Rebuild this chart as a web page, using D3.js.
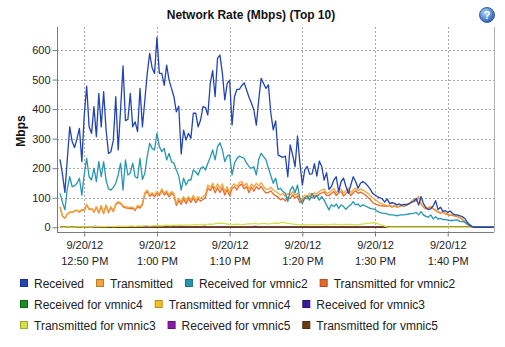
<!DOCTYPE html>
<html><head><meta charset="utf-8">
<script src="https://cdn.jsdelivr.net/npm/d3@7"></script>
<style>
html,body{margin:0;padding:0;background:#fff;}
svg{display:block;font-family:"Liberation Sans",Arial,Helvetica,sans-serif;}
</style></head><body>
<svg id="chart" width="505" height="347"></svg>
<script>
// Network rate samples, one every 20 seconds, in Mbps
const sampleStart = new Date(2012, 8, 20, 12, 46, 40);
const sampleSeconds = 20;

const received = [
  230,180,118,230,340,290,270,300,335,222,
  380,478,340,318,408,307,453,340,459,330,
  250,256,295,442,262,400,546,361,365,453,
  340,357,324,470,340,430,521,589,540,521,
  643,521,521,480,549,498,470,442,391,410,
  248,329,295,318,301,386,386,340,363,408,
  406,380,487,530,442,572,583,521,431,487,
  498,346,442,467,467,480,489,465,440,420,
  397,346,430,504,487,470,482,386,330,360,
  245,240,237,241,171,279,245,205,309,217,
  143,194,206,180,181,215,173,224,206,160,
  185,128,138,160,171,121,155,166,138,115,
  143,171,155,132,149,155,149,140,129,115,
  109,103,100,96,85,96,81,83,81,76,
  79,74,78,75,79,85,87,98,75,104,
  80,66,60,62,72,90,60,68,54,56,
  50,55,46,42,42,39,36,30,18,9,
  3,0,0,0,0,0,0,0,0,0
];

const transmitted = [
  70,38,30,45,52,50,56,58,53,60,
  58,78,62,64,53,70,50,74,48,76,
  52,70,55,80,87,83,72,70,68,67,
  68,60,74,70,80,118,126,109,117,109,
  121,113,130,115,124,109,121,115,80,98,
  85,104,88,104,92,108,92,104,98,104,
  110,143,135,149,129,147,132,147,121,138,
  117,140,147,138,151,155,140,149,129,147,
  135,149,140,151,138,128,129,135,126,121,
  115,109,115,104,115,109,121,109,115,92,
  98,109,104,115,109,117,113,121,126,129,
  115,117,124,132,117,126,129,115,124,132,
  117,126,132,124,129,126,121,115,108,100,
  94,88,82,79,76,72,76,70,74,70,
  72,76,72,79,81,87,95,90,104,81,
  70,64,67,70,64,59,53,50,53,47,
  45,42,42,40,38,34,28,20,12,5,
  0,0,0,0,0,0,0,0,0,0
];

const receivedVmnic2 = [
  115,85,59,130,171,138,140,149,166,109,
  180,233,171,160,200,155,222,171,222,160,
  130,126,135,149,177,217,126,228,177,183,
  217,171,166,233,162,183,240,284,267,262,
  318,273,256,267,228,250,222,217,194,174,
  126,166,143,160,160,194,188,177,200,205,
  194,217,237,262,228,273,286,262,222,241,
  245,177,217,233,241,237,233,217,205,200,
  205,177,230,250,239,228,200,175,149,166,
  128,132,121,115,87,126,138,117,143,98,
  81,98,106,92,115,98,109,92,104,92,
  75,59,76,70,79,64,76,70,61,70,
  76,87,76,79,70,76,72,68,64,62,
  61,53,50,48,47,45,42,42,41,39,
  41,42,42,44,45,46,47,50,42,53,
  42,37,34,42,28,36,28,30,26,27,
  24,23,23,24,25,20,19,18,12,6,
  2,0,0,0,0,0,0,0,0,0
];

const transmittedVmnic2 = [
  69,38,30,44,51,50,55,57,51,59,
  57,76,61,63,51,68,48,71,46,74,
  49,67,53,77,83,80,69,66,65,63,
  64,57,70,65,76,113,121,105,112,103,
  116,107,125,109,117,103,115,108,74,90,
  78,97,80,97,84,100,83,96,89,94,
  101,133,124,139,117,134,118,134,109,127,
  107,131,137,127,141,146,130,138,117,136,
  122,137,129,139,125,116,118,123,113,107,
  102,93,98,89,102,97,110,99,106,83,
  90,100,96,106,99,108,105,112,116,120,
  107,108,114,121,107,117,121,106,114,123,
  107,117,124,115,119,115,109,102,94,84,
  79,76,73,72,72,71,74,68,72,68,
  70,74,70,77,79,85,93,88,102,79,
  68,62,65,68,62,57,51,48,51,45,
  43,40,40,38,36,32,26,18,10,4,
  0,0,0,0,0,0,0,0,0,0
];

const transmittedVmnic3 = [
  1,0,0,1,1,0,1,1,2,1,
  1,2,1,1,2,2,2,3,2,2,
  3,3,2,3,4,3,3,4,3,4,
  4,3,4,5,4,5,5,4,5,6,
  5,6,5,6,7,6,6,7,6,8,
  7,7,8,7,8,8,9,8,9,10,
  9,10,11,10,12,13,14,13,12,11,
  10,9,10,11,10,9,10,11,12,11,
  13,12,11,12,13,12,11,12,13,14,
  13,16,17,15,13,12,11,10,9,9,
  8,9,8,9,10,9,8,9,10,9,
  8,9,10,11,10,9,8,9,10,9,
  10,9,8,9,10,11,12,13,14,16,
  15,12,9,7,4,1,0,0,0,0,
  0,0,0,0,0,0,0,0,0,0,
  0,0,0,0,0,0,0,0,0,0,
  0,0,0,0,0,0,0,0,0,0,
  0,0,0,0,0,0,0,0,0,0
];

const transmittedVmnic5 = [
  0,0,0,0,0,0,0,0,0,0,
  0,0,0,0,3,3,0,0,0,0,
  0,0,0,0,0,0,0,0,0,0,
  0,0,0,0,0,3,3,0,0,0,
  0,0,0,0,0,0,0,0,0,0,
  3,0,0,0,0,0,0,0,0,3,
  3,0,0,0,0,0,0,0,0,0,
  0,0,0,0,0,0,0,0,0,0,
  3,3,0,0,0,0,0,0,0,0,
  0,0,0,0,0,0,0,0,0,0,
  0,0,0,0,0,0,0,0,0,0,
  0,0,0,0,0,0,0,0,0,0,
  0,0,0,0,0,0,0,0,0,0,
  0,0,0,0,0,0,0,0,0,0,
  0,0,0,0,0,0,0,0,0,0,
  0,0,0,0,0,0,0,0,0,0,
  0,0,0,0,0,0,0,0,0,0,
  0,0,0,0,0,0,0,0,0,0
];

// NICs with no traffic in this window
const receivedVmnic4 = new Array(180).fill(0);
const transmittedVmnic4 = new Array(180).fill(0);
const receivedVmnic3 = new Array(180).fill(0);
const receivedVmnic5 = new Array(180).fill(0);

const seriesNames = [
  "Received", "Transmitted", "Received for vmnic2", "Transmitted for vmnic2",
  "Received for vmnic4", "Transmitted for vmnic4", "Received for vmnic3",
  "Transmitted for vmnic3", "Received for vmnic5", "Transmitted for vmnic5"
];
const seriesValues = [
  received, transmitted, receivedVmnic2, transmittedVmnic2,
  receivedVmnic4, transmittedVmnic4, receivedVmnic3,
  transmittedVmnic3, receivedVmnic5, transmittedVmnic5
];
const seriesColors = [
  "#2244b4", "#f4a43a", "#2896b0", "#e8682a",
  "#1a8c1a", "#f0c020", "#3a1a9c",
  "#d2e04c", "#8c1aa8", "#6a3a12"
];
// paint order, bottom to top
const drawOrder = [4, 5, 6, 8, 9, 7, 3, 1, 2, 0];

const yTicks = [0, 100, 200, 300, 400, 500, 600];
const xTickTimes = [
  new Date(2012, 8, 20, 12, 50), new Date(2012, 8, 20, 13, 0),
  new Date(2012, 8, 20, 13, 10), new Date(2012, 8, 20, 13, 20),
  new Date(2012, 8, 20, 13, 30), new Date(2012, 8, 20, 13, 40)
];

const svg = d3.select("#chart");
const W = 505, H = 347;
const plot = {left: 57, right: 494, top: 27, bottom: 232};

const x = d3.scaleTime()
  .domain([new Date(2012, 8, 20, 12, 46, 15), new Date(2012, 8, 20, 13, 46, 22)])
  .range([plot.left, plot.right]);
const y = d3.scaleLinear().domain([-16, 678]).range([plot.bottom, plot.top]);

const timeAt = i => new Date(sampleStart.getTime() + i * sampleSeconds * 1000);

svg.append("rect").attr("width", W).attr("height", H).attr("fill", "#fff");

// title
svg.append("text").attr("x", 251).attr("y", 19).attr("text-anchor", "middle")
  .attr("font-size", 12).attr("font-weight", "bold").attr("fill", "#111")
  .text("Network Rate (Mbps) (Top 10)");

// help button
const defs = svg.append("defs");
const grad = defs.append("radialGradient").attr("id", "helpGrad")
  .attr("cx", "40%").attr("cy", "35%").attr("r", "65%");
grad.append("stop").attr("offset", "0%").attr("stop-color", "#bcd6f4");
grad.append("stop").attr("offset", "60%").attr("stop-color", "#5c8fd6");
grad.append("stop").attr("offset", "100%").attr("stop-color", "#2d5fae");
svg.append("circle").attr("cx", 487).attr("cy", 15).attr("r", 7.5)
  .attr("fill", "url(#helpGrad)").attr("stroke", "#3a64a8").attr("stroke-width", 1);
svg.append("text").attr("x", 487).attr("y", 19).attr("text-anchor", "middle")
  .attr("font-size", 11).attr("font-weight", "bold").attr("fill", "#fff").text("?");

// grid
const grid = svg.append("g").attr("stroke", "#a8a8a8").attr("stroke-dasharray", "2,2").attr("stroke-width", 1);
grid.selectAll("line.h").data(yTicks).join("line").attr("class", "h")
  .attr("x1", plot.left).attr("x2", plot.right)
  .attr("y1", d => Math.round(y(d)) + 0.5).attr("y2", d => Math.round(y(d)) + 0.5);
grid.selectAll("line.v").data(xTickTimes).join("line").attr("class", "v")
  .attr("x1", d => Math.round(x(d)) + 0.5).attr("x2", d => Math.round(x(d)) + 0.5)
  .attr("y1", plot.top).attr("y2", plot.bottom);

// right border
svg.append("line").attr("x1", plot.right + 0.5).attr("x2", plot.right + 0.5)
  .attr("y1", plot.top).attr("y2", plot.bottom).attr("stroke", "#b0b0b0");

// series lines
const clip = defs.append("clipPath").attr("id", "plotClip");
clip.append("rect").attr("x", plot.left).attr("y", plot.top)
  .attr("width", plot.right - plot.left).attr("height", plot.bottom - plot.top);
const lineGen = d3.line().x((d, i) => x(timeAt(i))).y(d => y(d));
const lines = svg.append("g").attr("clip-path", "url(#plotClip)");
drawOrder.forEach(k => {
  lines.append("path").datum(seriesValues[k])
    .attr("fill", "none").attr("stroke", seriesColors[k])
    .attr("stroke-width", 1.3).attr("stroke-linejoin", "round")
    .attr("d", lineGen);
});

// axes
const yAxis = svg.append("g").attr("transform", `translate(${plot.left + 0.5},0)`)
  .call(d3.axisLeft(y).tickValues(yTicks).tickSize(5).tickPadding(2).tickSizeOuter(0));
yAxis.select(".domain").attr("stroke", "#7a7a7a").attr("d", `M0,${plot.top}V${plot.bottom}`);
yAxis.selectAll(".tick line").attr("stroke", "#7a7a7a");
yAxis.selectAll(".tick text").attr("font-size", 11).attr("fill", "#222")
  .attr("font-family", "Liberation Sans, Arial, sans-serif");

const xAxis = svg.append("g").attr("transform", `translate(0,${plot.bottom + 0.5})`)
  .call(d3.axisBottom(x).tickValues(xTickTimes).tickSize(4).tickSizeOuter(0).tickFormat(""));
xAxis.select(".domain").attr("stroke", "#7a7a7a").attr("d", `M${plot.left},0H${plot.right}`);
xAxis.selectAll(".tick line").attr("stroke", "#7a7a7a");
const fmtDate = d3.timeFormat("%-m/%-d/%y");
const fmtTime = d3.timeFormat("%-I:%M %p");
xAxis.selectAll(".tick").each(function(d) {
  const t = d3.select(this).append("text").attr("fill", "#222").attr("font-size", 11)
    .attr("text-anchor", "middle").attr("font-family", "Liberation Sans, Arial, sans-serif");
  t.append("tspan").attr("x", 0).attr("y", 16).text(fmtDate(d));
  t.append("tspan").attr("x", 0).attr("y", 32).text(fmtTime(d));
});

// y label
svg.append("text").attr("transform", "translate(25,131) rotate(-90)")
  .attr("text-anchor", "middle").attr("font-size", 12).attr("font-weight", "bold")
  .attr("fill", "#111").text("Mbps");

// legend, flowing left to right
const legend = svg.append("g");
const rowYs = [283, 304, 325];
let lx = 20, row = 0;
seriesNames.forEach((name, k) => {
  const item = legend.append("g");
  const label = item.append("text").attr("x", 14).attr("y", 4.5)
    .attr("font-size", 12).attr("fill", "#222").text(name);
  const w = label.node().getComputedTextLength();
  if (lx + 14 + w > 498) { row += 1; lx = 20; }
  item.attr("transform", `translate(${lx},${rowYs[row]})`);
  item.insert("rect", "text").attr("x", 0.5).attr("y", -3.5).attr("width", 7).attr("height", 7)
    .attr("fill", seriesColors[k]).attr("stroke", d3.color(seriesColors[k]).darker(0.8));
  lx += 14 + w + 12;
});
</script>
</body></html>
